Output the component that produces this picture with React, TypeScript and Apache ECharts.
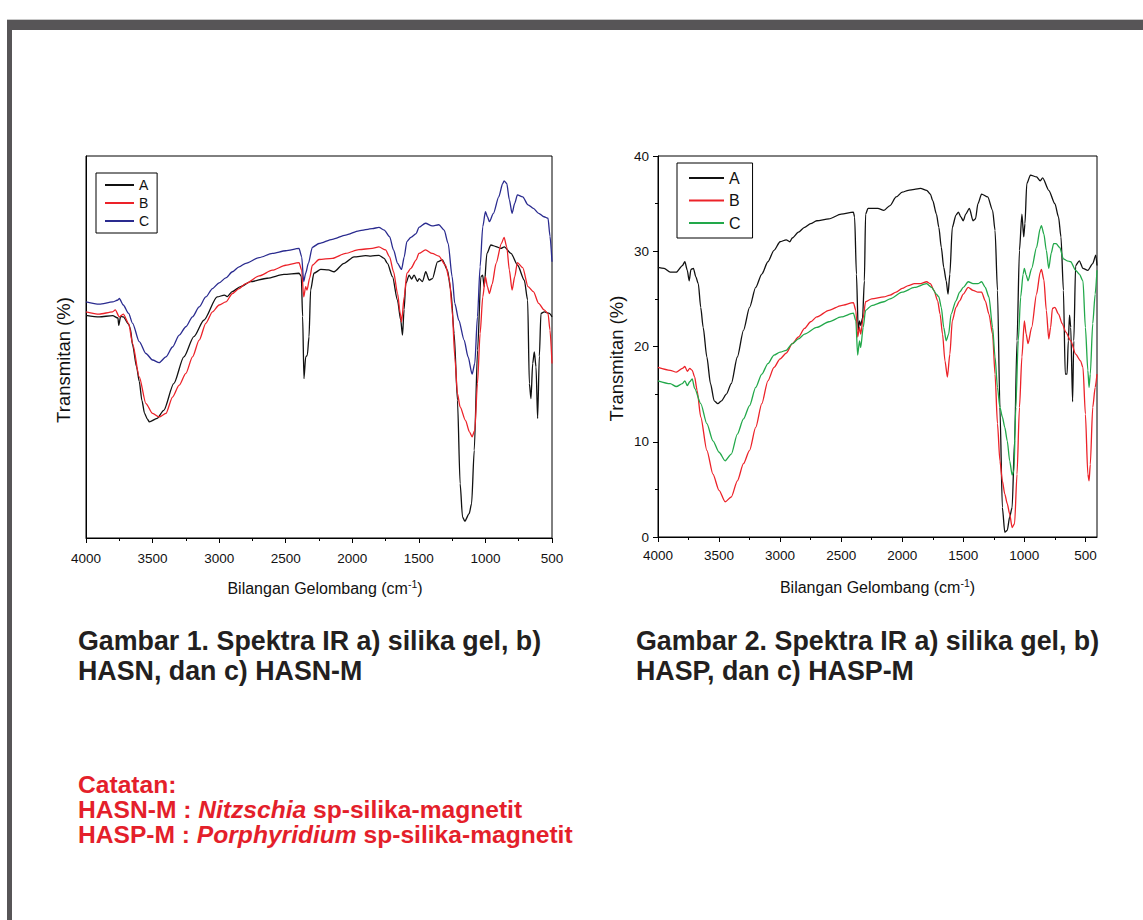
import React, { useEffect, useRef } from "react";
import * as echarts from "echarts";

const FONT = "'Liberation Sans', Arial, Helvetica, sans-serif";

// Right chart tick values
const xTicksRight = [4000, 3500, 3000, 2500, 2000, 1500, 1000, 500];
const xMinorRight = [3750, 3250, 2750, 2250, 1750, 1250, 750];

// ---------- Gambar 1 (left) : relative transmittance (no scale shown) ----------
const leftA: [number, number][] = [
  [4000, 58.3], [3900, 57.9], [3800, 58.2], [3760, 57.6], [3754, 55.7], [3740, 58.0], [3720, 57.9],
  [3680, 56.0], [3667, 54.8], [3650, 50.5], [3620, 44.8], [3600, 41.0], [3580, 36.0], [3560, 32.6],
  [3540, 31.2], [3524, 30.4], [3466, 31.3], [3416, 33.4], [3341, 40.4], [3265, 47.4], [3190, 52.7],
  [3115, 57.0], [3015, 63.1], [2960, 63.6], [2940, 63.2], [2902, 64.5], [2839, 65.8], [2764, 67.1],
  [2639, 68.0], [2513, 69.0], [2400, 69.3], [2383, 68.5], [2373, 58.0], [2363, 41.7], [2350, 47.4],
  [2338, 47.8], [2325, 52.7], [2313, 64.9], [2288, 69.3], [2237, 70.3], [2180, 70.2], [2137, 69.7],
  [2062, 71.9], [1987, 73.6], [1900, 73.9], [1861, 73.8], [1800, 74.0], [1761, 73.2], [1736, 71.9],
  [1698, 68.4], [1661, 62.3], [1636, 57.0], [1623, 53.1], [1611, 59.8], [1598, 66.6], [1573, 68.8],
  [1555, 67.8], [1536, 68.8], [1510, 67.2], [1498, 67.9], [1473, 67.1], [1448, 69.7], [1423, 67.5],
  [1398, 67.9], [1360, 72.3], [1323, 72.8], [1285, 70.1], [1260, 64.9], [1235, 53.5], [1210, 36.1],
  [1190, 14.2], [1172, 5.5], [1155, 4.4], [1122, 6.4], [1104, 9.0], [1084, 23.0], [1059, 49.2],
  [1034, 68.4], [1021, 68.8], [1009, 65.8], [989, 74.5], [959, 76.7], [921, 76.3], [884, 75.8],
  [858, 76.2], [808, 74.5], [758, 71.4], [708, 67.5], [683, 62.3], [670, 40.4], [658, 36.5],
  [645, 45.7], [633, 48.7], [620, 44.8], [608, 31.3], [595, 47.6], [583, 58.8], [558, 59.2],
  [520, 58.8], [500, 57.9],
];

const leftB: [number, number][] = [
  [4000, 59.2], [3900, 58.6], [3800, 59.2], [3780, 59.7], [3750, 57.9], [3720, 58.6], [3680, 56.2],
  [3650, 50.9], [3600, 42.2], [3550, 35.2], [3500, 32.6], [3450, 31.7], [3400, 32.6], [3350, 36.9],
  [3300, 40.0], [3250, 43.1], [3200, 47.4], [3150, 51.8], [3100, 56.2], [3050, 59.2], [3000, 61.0],
  [2950, 61.8], [2900, 64.0], [2850, 65.3], [2800, 66.6], [2700, 68.6], [2600, 70.1], [2500, 71.4],
  [2400, 72.1], [2380, 70.1], [2365, 63.1], [2350, 65.8], [2340, 64.9], [2320, 68.1], [2300, 71.4],
  [2250, 72.9], [2150, 73.2], [2050, 74.5], [1950, 75.5], [1850, 75.8], [1800, 76.2], [1750, 75.4],
  [1720, 73.6], [1690, 69.7], [1660, 64.0], [1640, 58.8], [1630, 56.6], [1610, 63.1], [1590, 69.3],
  [1560, 70.6], [1520, 72.8], [1500, 74.5], [1450, 75.4], [1400, 74.5], [1350, 73.8], [1300, 71.4],
  [1270, 67.5], [1250, 59.7], [1230, 47.4], [1210, 37.8], [1190, 34.3], [1150, 30.8], [1120, 27.8],
  [1100, 26.5], [1080, 28.2], [1060, 40.4], [1040, 53.5], [1020, 63.1], [1000, 68.4], [985, 65.8],
  [970, 64.0], [950, 66.4], [920, 71.9], [880, 77.1], [860, 78.7], [840, 76.2], [820, 70.1],
  [800, 64.9], [780, 68.4], [760, 72.1], [720, 70.8], [680, 65.8], [640, 64.5], [600, 61.4],
  [560, 59.7], [530, 58.8], [515, 54.4], [500, 45.7],
];

const leftC: [number, number][] = [
  [4000, 61.8], [3900, 61.2], [3800, 61.8], [3760, 62.3], [3750, 62.7], [3720, 61.0], [3680, 58.8],
  [3650, 56.2], [3600, 51.4], [3550, 48.3], [3500, 46.6], [3450, 45.9], [3400, 47.4], [3350, 50.0],
  [3300, 53.1], [3250, 55.3], [3200, 57.9], [3150, 60.5], [3100, 63.1], [3050, 65.3], [3000, 66.8],
  [2950, 68.1], [2900, 69.7], [2850, 71.0], [2800, 71.9], [2700, 73.4], [2600, 74.5], [2500, 75.2],
  [2400, 75.8], [2380, 73.6], [2365, 67.1], [2350, 69.3], [2330, 71.9], [2300, 76.1], [2250, 77.1],
  [2150, 78.2], [2050, 79.3], [1950, 80.4], [1850, 81.0], [1800, 81.3], [1760, 80.6], [1720, 78.9],
  [1690, 75.4], [1660, 71.9], [1630, 70.3], [1610, 73.6], [1590, 77.6], [1560, 78.7], [1520, 79.7],
  [1500, 81.3], [1450, 82.4], [1400, 81.7], [1350, 82.0], [1310, 80.6], [1280, 77.1], [1250, 68.4],
  [1230, 61.4], [1200, 57.0], [1160, 51.8], [1130, 47.4], [1100, 42.9], [1080, 45.7], [1060, 57.9],
  [1040, 71.0], [1020, 81.5], [1000, 85.4], [985, 84.1], [970, 82.8], [940, 85.0], [900, 89.3],
  [870, 92.8], [860, 93.5], [840, 92.8], [820, 88.5], [800, 85.0], [780, 87.6], [760, 89.8],
  [720, 89.3], [680, 87.2], [640, 86.3], [600, 85.0], [560, 84.1], [530, 83.7], [515, 79.0],
  [500, 72.3],
];

// ---------- Gambar 2 (right) : transmittance % ----------
const rightA: [number, number][] = [
  [4000, 28.3], [3950, 28.2], [3900, 27.8], [3850, 27.8], [3800, 28.5], [3780, 28.9], [3760, 28.0],
  [3745, 26.9], [3730, 28.1], [3710, 28.2], [3690, 27.3], [3670, 26.6], [3650, 24.1], [3630, 22.0],
  [3600, 18.9], [3570, 16.1], [3540, 14.3], [3510, 14.0], [3480, 14.3], [3440, 15.0], [3400, 16.1],
  [3350, 18.9], [3300, 21.7], [3250, 24.1], [3200, 26.2], [3150, 27.6], [3100, 28.9], [3050, 30.1],
  [3000, 31.0], [2950, 31.2], [2920, 31.0], [2900, 31.4], [2850, 32.0], [2800, 32.5], [2750, 32.9],
  [2700, 33.2], [2600, 33.4], [2500, 33.9], [2400, 34.1], [2390, 33.6], [2375, 27.6], [2360, 21.7],
  [2350, 22.7], [2340, 22.2], [2325, 23.0], [2310, 26.9], [2300, 33.9], [2280, 34.5], [2200, 34.5],
  [2150, 34.3], [2100, 34.8], [2050, 35.7], [2000, 36.2], [1950, 36.4], [1900, 36.5], [1850, 36.6],
  [1800, 36.4], [1770, 36.0], [1750, 35.3], [1720, 33.9], [1700, 32.5], [1680, 30.4], [1660, 28.3],
  [1640, 26.9], [1625, 25.5], [1610, 27.6], [1590, 32.5], [1560, 33.8], [1540, 34.1], [1520, 33.6],
  [1500, 33.2], [1480, 33.9], [1450, 34.5], [1420, 33.2], [1400, 33.4], [1380, 35.0], [1350, 36.0],
  [1300, 35.7], [1260, 34.3], [1240, 32.2], [1220, 25.9], [1200, 13.6], [1180, 3.1], [1160, 0.5],
  [1140, 0.7], [1120, 2.1], [1100, 3.1], [1080, 10.1], [1060, 20.6], [1040, 30.1], [1020, 33.9],
  [1005, 31.5], [995, 32.9], [980, 37.1], [950, 38.0], [900, 37.8], [870, 37.4], [850, 37.7],
  [800, 36.4], [750, 35.0], [720, 33.6], [700, 31.5], [680, 25.9], [665, 17.1], [650, 17.1],
  [640, 20.6], [630, 23.3], [620, 22.0], [605, 14.2], [595, 20.6], [580, 28.5], [550, 29.0],
  [520, 28.2], [480, 28.0], [440, 28.7], [415, 29.6], [405, 28.5],
];

const rightB: [number, number][] = [
  [4000, 17.8], [3900, 17.5], [3850, 17.3], [3800, 17.7], [3780, 17.9], [3760, 17.4], [3740, 17.7],
  [3720, 17.5], [3700, 16.8], [3680, 15.4], [3650, 12.6], [3600, 9.1], [3550, 6.6], [3500, 4.9],
  [3450, 3.7], [3400, 4.2], [3350, 5.9], [3300, 7.7], [3250, 9.1], [3200, 11.5], [3150, 14.0],
  [3100, 16.4], [3050, 17.8], [3000, 18.7], [2950, 19.3], [2900, 20.3], [2850, 21.0], [2800, 21.9],
  [2750, 22.6], [2700, 23.1], [2600, 23.8], [2500, 24.3], [2400, 24.6], [2380, 23.8], [2365, 21.0],
  [2350, 22.0], [2340, 21.3], [2320, 23.0], [2300, 24.7], [2250, 25.0], [2150, 25.2], [2100, 25.4],
  [2050, 25.7], [2000, 26.1], [1950, 26.4], [1900, 26.6], [1850, 26.6], [1800, 26.8], [1770, 26.6],
  [1740, 25.9], [1710, 24.8], [1690, 23.4], [1670, 21.3], [1650, 18.5], [1630, 16.8], [1610, 19.2],
  [1590, 22.7], [1560, 24.1], [1530, 24.8], [1500, 25.5], [1460, 26.2], [1420, 25.9], [1380, 25.7],
  [1350, 25.7], [1320, 24.8], [1290, 23.4], [1260, 21.3], [1240, 17.1], [1220, 11.9], [1200, 8.0],
  [1180, 5.9], [1160, 4.5], [1140, 3.5], [1120, 2.4], [1100, 1.0], [1080, 1.4], [1060, 6.6],
  [1040, 13.6], [1020, 18.9], [1000, 22.7], [985, 21.3], [970, 20.3], [940, 22.0], [900, 25.5],
  [870, 27.8], [860, 28.1], [840, 27.0], [820, 23.8], [800, 20.8], [785, 22.0], [770, 24.0],
  [750, 24.1], [720, 23.4], [690, 22.4], [660, 21.5], [620, 20.6], [580, 19.2], [540, 18.5],
  [520, 17.8], [500, 12.9], [480, 6.6], [470, 5.9], [460, 7.6], [440, 13.6], [420, 15.7], [405, 17.1],
];

const rightC: [number, number][] = [
  [4000, 16.4], [3900, 16.1], [3850, 15.8], [3800, 16.1], [3780, 16.4], [3760, 15.9], [3740, 16.3],
  [3720, 16.6], [3700, 15.6], [3650, 14.0], [3600, 11.9], [3550, 10.1], [3500, 8.9], [3450, 8.0],
  [3400, 8.7], [3350, 10.8], [3300, 12.4], [3250, 13.8], [3200, 15.7], [3150, 17.1], [3100, 18.2],
  [3050, 19.1], [3000, 19.4], [2950, 19.6], [2900, 20.3], [2850, 20.8], [2800, 21.3], [2700, 22.0],
  [2600, 22.6], [2500, 23.1], [2400, 23.5], [2380, 22.7], [2365, 19.1], [2350, 20.6], [2340, 19.9],
  [2320, 22.0], [2300, 23.8], [2250, 24.3], [2150, 24.7], [2100, 25.0], [2000, 25.7], [1900, 26.2],
  [1800, 26.6], [1760, 26.2], [1720, 25.5], [1700, 25.2], [1680, 24.1], [1660, 22.0], [1640, 20.6],
  [1620, 21.3], [1600, 23.4], [1560, 24.8], [1530, 25.7], [1500, 26.2], [1460, 26.8], [1420, 26.6],
  [1380, 26.6], [1350, 26.8], [1320, 26.2], [1290, 25.2], [1260, 22.0], [1240, 18.9], [1220, 15.7],
  [1200, 13.6], [1180, 12.6], [1160, 11.5], [1140, 10.1], [1120, 8.0], [1100, 6.5], [1085, 7.0],
  [1070, 13.6], [1050, 20.6], [1030, 25.2], [1010, 27.6], [1000, 28.2], [985, 27.5], [970, 26.9],
  [940, 28.2], [900, 30.4], [870, 32.4], [860, 32.7], [840, 31.8], [820, 30.1], [800, 28.2],
  [780, 29.8], [760, 30.8], [740, 30.8], [710, 30.4], [680, 29.2], [650, 29.0], [620, 28.9],
  [580, 28.0], [550, 27.6], [520, 26.9], [500, 22.0], [480, 17.5], [470, 15.7], [460, 17.1],
  [440, 22.4], [420, 25.5], [405, 28.0],
];

const legendNames = ["A", "B", "C"];
const caption1 = ["Gambar 1. Spektra IR a) silika gel, b)", "HASN, dan c) HASN-M"];
const caption2 = ["Gambar 2. Spektra IR a) silika gel, b)", "HASP, dan c) HASP-M"];
const noteLines = [
  "{b|Catatan:}",
  "{b|HASN-M : }{i|Nitzschia}{b| sp-silika-magnetit}",
  "{b|HASP-M : }{i|Porphyridium}{b| sp-silika-magnetit}",
];
const xTitle = "Bilangan Gelombang (cm{sup|-1})";
const yTitle = "Transmitan (%)";

const BLACK = "#111111";
const RED = "#ec2229";
const BLUE = "#2a2b8f";
const GREEN = "#22a84a";
const FRAME = "#575557";
const NOTE_RED = "#e41f2b";

const titleRich = {
  sup: { fontSize: 10.5, fontFamily: FONT, color: "#111", verticalAlign: "top", padding: [0, 0, 9, 0] },
};

const plainLabel = (v: number) => String(v);

function lineSeries(name: string, data: [number, number][], color: string, xi: number, yi: number) {
  return {
    type: "line",
    name,
    data,
    xAxisIndex: xi,
    yAxisIndex: yi,
    symbol: "none",
    smooth: 0.25,
    smoothMonotone: "x",
    color,
    lineStyle: { color, width: 1.3 },
    emphasis: { disabled: true },
    silent: true,
  };
}

export default function App() {
  const ref = useRef<HTMLDivElement>(null);
  useEffect(() => {
    const chart = echarts.init(ref.current!, null, { renderer: "svg" });
    const axisLine = { show: true, onZero: false, lineStyle: { color: "#000", width: 1 } };
    const legendBase = {
      orient: "vertical",
      borderColor: "#000",
      borderWidth: 1,
      selectedMode: false,
      formatter: (n: string) => n.charAt(0),
      itemStyle: { opacity: 0, borderWidth: 0 },
    };
    const noteRich = {
      b: { fill: NOTE_RED, fontSize: 24.6, fontWeight: "bold", fontFamily: FONT, lineHeight: 25 },
      i: { fill: NOTE_RED, fontSize: 24.6, fontWeight: "bold", fontStyle: "italic", fontFamily: FONT, lineHeight: 25 },
    };
    const captionStyle = {
      fill: "#231f20", fontSize: 26.8, lineHeight: 30, fontWeight: "bold", fontFamily: FONT,
      verticalAlign: "middle", align: "left",
    };
    const option: any = {
      animation: false,
      backgroundColor: "#ffffff",
      textStyle: { fontFamily: FONT },
      grid: [
        { left: 86, top: 156, width: 466, height: 382, show: true, borderColor: "#000", borderWidth: 1, backgroundColor: "transparent" },
        { left: 658, top: 156, width: 439, height: 381, show: true, borderColor: "#000", borderWidth: 1, backgroundColor: "transparent" },
        { left: 658, top: 156, width: 439, height: 381 },
      ],
      xAxis: [
        {
          type: "value", gridIndex: 0, min: 500, max: 4000, interval: 500, inverse: true,
          axisLine, splitLine: { show: false },
          axisTick: { show: true, inside: false, length: 5, lineStyle: { color: "#000" } },
          minorTick: { show: true, splitNumber: 2, length: 3, lineStyle: { color: "#000" } },
          minorSplitLine: { show: false },
          axisLabel: { color: "#111", fontSize: 13.5, fontFamily: FONT, margin: 13, formatter: plainLabel },
          name: xTitle, nameLocation: "middle", nameGap: 40,
          nameTextStyle: { fontSize: 16, color: "#111", fontFamily: FONT, rich: titleRich, padding: [0, 0, 0, 12] },
        },
        {
          type: "value", gridIndex: 1, min: 405, max: 4000, inverse: true,
          axisLine, splitLine: { show: false },
          axisTick: { show: true, inside: false, length: 5, lineStyle: { color: "#000" }, customValues: xTicksRight },
          axisLabel: { color: "#111", fontSize: 13.5, fontFamily: FONT, margin: 11, customValues: xTicksRight, formatter: plainLabel },
          name: xTitle, nameLocation: "middle", nameGap: 40,
          nameTextStyle: { fontSize: 16, color: "#111", fontFamily: FONT, rich: titleRich },
        },
        {
          type: "value", gridIndex: 2, min: 405, max: 4000, inverse: true,
          axisLine: { show: false }, splitLine: { show: false },
          axisTick: { show: true, inside: false, length: 3, lineStyle: { color: "#000" }, customValues: xMinorRight },
          axisLabel: { show: false },
        },
      ],
      yAxis: [
        {
          type: "value", gridIndex: 0, min: 0, max: 100,
          axisLine, axisTick: { show: false }, axisLabel: { show: false }, splitLine: { show: false },
          name: yTitle, nameLocation: "middle", nameGap: 13,
          nameTextStyle: { fontSize: 18.5, color: "#111", fontFamily: FONT, padding: [0, 26, 0, 0] },
        },
        {
          type: "value", gridIndex: 1, min: 0, max: 40, interval: 10,
          axisLine, splitLine: { show: false },
          axisTick: { show: true, inside: false, length: 5, lineStyle: { color: "#000" } },
          minorTick: { show: true, splitNumber: 2, length: 3, lineStyle: { color: "#000" } },
          minorSplitLine: { show: false },
          axisLabel: { color: "#111", fontSize: 13.5, fontFamily: FONT, margin: 9 },
          name: yTitle, nameLocation: "middle", nameGap: 32,
          nameTextStyle: { fontSize: 18.5, color: "#111", fontFamily: FONT, padding: [0, 24, 0, 0] },
        },
        {
          type: "value", gridIndex: 2, min: 0, max: 40,
          axisLine: { show: false }, axisTick: { show: false }, axisLabel: { show: false }, splitLine: { show: false },
        },
      ],
      legend: [
        {
          ...legendBase,
          data: ["A1", "B1", "C1"], left: 96, top: 173,
          itemWidth: 29, itemHeight: 14, itemGap: 4, padding: [5, 8, 5, 8],
          textStyle: { fontSize: 14, color: "#111", fontFamily: FONT },
        },
        {
          ...legendBase,
          data: ["A2", "B2", "C2"], left: 677, top: 163,
          itemWidth: 35, itemHeight: 16, itemGap: 6.5, padding: [7, 12, 7, 11],
          textStyle: { fontSize: 16, color: "#111", fontFamily: FONT },
        },
      ],
      series: [
        lineSeries(legendNames[0] + "1", leftA, BLACK, 0, 0),
        lineSeries(legendNames[1] + "1", leftB, RED, 0, 0),
        lineSeries(legendNames[2] + "1", leftC, BLUE, 0, 0),
        lineSeries(legendNames[0] + "2", rightA, BLACK, 1, 1),
        lineSeries(legendNames[1] + "2", rightB, RED, 1, 1),
        lineSeries(legendNames[2] + "2", rightC, GREEN, 1, 1),
      ],
      graphic: [
        { type: "rect", silent: true, shape: { x: 7, y: 20, width: 1140, height: 10 }, style: { fill: FRAME } },
        { type: "rect", silent: true, shape: { x: 7, y: 20, width: 5, height: 910 }, style: { fill: FRAME } },
        { type: "line", silent: true, shape: { x1: 7, y1: 19.5, x2: 1143, y2: 19.5 }, style: { stroke: "#c8c8c8", lineWidth: 1 } },
        { type: "text", silent: true, x: 78, y: 656, style: { ...captionStyle, text: caption1.join("\n") } },
        { type: "text", silent: true, x: 636, y: 656, style: { ...captionStyle, text: caption2.join("\n") } },
        {
          type: "text", silent: true, x: 78, y: 809,
          style: { text: noteLines.join("\n"), verticalAlign: "middle", align: "left", lineHeight: 25, rich: noteRich },
        },
      ],
    };
    chart.setOption(option);
    return () => chart.dispose();
  }, []);
  return (
    <div
      ref={ref}
      style={{ position: "fixed", left: 0, top: 0, width: 1143, height: 920, background: "#fff" }}
    />
  );
}
